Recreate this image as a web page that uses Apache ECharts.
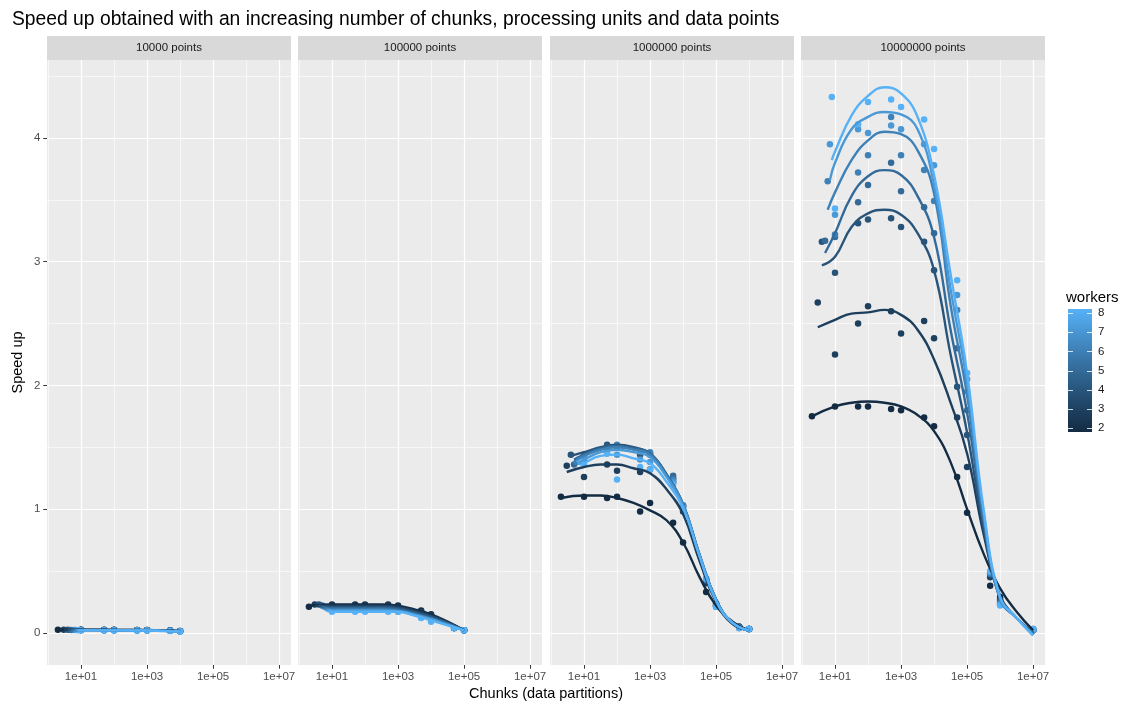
<!DOCTYPE html>
<html>
<head>
<meta charset="utf-8">
<script src="https://cdn.jsdelivr.net/npm/echarts@6/dist/echarts.min.js"></script>
<style>
  html, body { margin: 0; padding: 0; background: #ffffff; }
  #chart { width: 1131px; height: 708px; }
</style>
</head>
<body>
<div id="chart"></div>
<script>
const FONT = '"Liberation Sans", Arial, Helvetica, sans-serif';

// ---- data -------------------------------------------------------------
const workers = [2, 3, 4, 5, 6, 7, 8];
const panelNames = ['10000 points', '100000 points', '1000000 points', '10000000 points'];
const xTickExponents = [1, 3, 5, 7];
const xMinorExponents = [0, 2, 4, 6];
const yTicks = [0, 1, 2, 3, 4];
const yMinor = [0.5, 1.5, 2.5, 3.5, 4.5];
const legendTicks = [2, 3, 4, 5, 6, 7, 8];

// chunk counts tried after the "one chunk per worker" run
const chunks10k = [10, 50, 100, 500, 1000, 5000, 10000];
const chunks100k = chunks10k.concat([50000, 100000]);
const chunks1m = chunks100k.concat([500000, 1000000]);
const chunks10m = chunks1m.concat([10000000]);

// measured speed-up, one row per worker count (2..8);
// the first value of a row is the run with chunks = workers
const speed10k = [
  [0.025, 0.025, 0.024, 0.024, 0.023, 0.023, 0.020, 0.015],
  [0.025, 0.024, 0.023, 0.023, 0.022, 0.022, 0.019, 0.014],
  [0.024, 0.023, 0.022, 0.022, 0.021, 0.021, 0.018, 0.013],
  [0.023, 0.022, 0.021, 0.021, 0.021, 0.020, 0.017, 0.013],
  [0.022, 0.021, 0.021, 0.020, 0.020, 0.020, 0.016, 0.012],
  [0.022, 0.021, 0.020, 0.020, 0.020, 0.019, 0.016, 0.012],
  [0.021, 0.020, 0.020, 0.019, 0.019, 0.019, 0.015, 0.011]
];
const speed100k = [
  [0.21, 0.23, 0.23, 0.23, 0.23, 0.22, 0.18, 0.15, 0.04, 0.02],
  [0.23, 0.22, 0.22, 0.22, 0.22, 0.21, 0.17, 0.14, 0.04, 0.02],
  [0.23, 0.21, 0.21, 0.21, 0.21, 0.20, 0.16, 0.13, 0.04, 0.02],
  [0.22, 0.20, 0.20, 0.20, 0.20, 0.19, 0.15, 0.12, 0.04, 0.02],
  [0.21, 0.19, 0.19, 0.19, 0.19, 0.18, 0.14, 0.11, 0.04, 0.02],
  [0.20, 0.18, 0.18, 0.18, 0.18, 0.17, 0.13, 0.10, 0.04, 0.02],
  [0.19, 0.17, 0.17, 0.17, 0.17, 0.17, 0.12, 0.09, 0.04, 0.02]
];
const speed1m = [
  [1.10, 1.10, 1.09, 1.10, 0.98, 1.05, 0.89, 0.73, 0.33, 0.24, 0.05, 0.03],
  [1.35, 1.26, 1.36, 1.31, 1.30, 1.32, 1.22, 0.98, 0.40, 0.22, 0.05, 0.03],
  [1.44, 1.40, 1.52, 1.51, 1.44, 1.45, 1.25, 1.03, 0.42, 0.22, 0.05, 0.03],
  [1.36, 1.44, 1.50, 1.50, 1.46, 1.44, 1.27, 1.02, 0.43, 0.22, 0.05, 0.03],
  [1.38, 1.42, 1.48, 1.52, 1.47, 1.46, 1.24, 1.03, 0.43, 0.21, 0.04, 0.03],
  [1.40, 1.41, 1.45, 1.44, 1.40, 1.38, 1.22, 1.00, 0.44, 0.21, 0.04, 0.03],
  [1.38, 1.36, 1.45, 1.24, 1.34, 1.32, 1.20, 1.01, 0.44, 0.21, 0.04, 0.03]
];
const speed10m = [
  [1.75, 1.83, 1.83, 1.83, 1.81, 1.80, 1.74, 1.67, 1.26, 0.97, 0.38, 0.29, 0.03],
  [2.67, 2.25, 2.50, 2.64, 2.60, 2.42, 2.52, 2.38, 1.74, 1.34, 0.45, 0.27, 0.02],
  [3.16, 2.91, 3.31, 3.34, 3.35, 3.28, 3.16, 2.93, 1.99, 1.60, 0.47, 0.26, 0.02],
  [3.17, 3.20, 3.48, 3.62, 3.80, 3.57, 3.44, 3.23, 2.30, 1.80, 0.48, 0.25, 0.02],
  [3.65, 3.22, 3.72, 3.86, 4.17, 3.86, 3.74, 3.49, 2.61, 1.95, 0.48, 0.24, 0.02],
  [3.95, 3.38, 4.07, 4.04, 4.10, 4.07, 3.95, 3.78, 2.73, 2.05, 0.49, 0.23, 0.02],
  [4.33, 3.43, 4.11, 4.29, 4.31, 4.25, 4.15, 3.91, 2.85, 2.10, 0.50, 0.22, 0.03]
];

// smoothed trend per worker count: first value at log10(chunks) = log10(workers),
// the rest at the log10(chunks) positions listed in fitLog
const fitLog = [1, 1.5, 2, 2.5, 3, 3.5, 4, 4.5, 5, 5.5, 6, 6.5, 7];
const fit10k = [
  [0.026, 0.025, 0.025, 0.024, 0.024, 0.023, 0.020, 0.015],
  [0.025, 0.024, 0.024, 0.023, 0.023, 0.022, 0.019, 0.014],
  [0.024, 0.023, 0.023, 0.022, 0.022, 0.021, 0.018, 0.013],
  [0.023, 0.022, 0.022, 0.021, 0.021, 0.020, 0.017, 0.013],
  [0.022, 0.022, 0.021, 0.021, 0.020, 0.020, 0.016, 0.012],
  [0.022, 0.021, 0.021, 0.020, 0.020, 0.019, 0.016, 0.012],
  [0.021, 0.020, 0.020, 0.020, 0.019, 0.019, 0.015, 0.011]
];
const fit100k = [
  [0.22, 0.23, 0.23, 0.23, 0.23, 0.22, 0.19, 0.15, 0.09, 0.02],
  [0.22, 0.22, 0.22, 0.22, 0.22, 0.21, 0.18, 0.14, 0.085, 0.02],
  [0.22, 0.21, 0.21, 0.21, 0.21, 0.20, 0.17, 0.13, 0.08, 0.02],
  [0.21, 0.20, 0.20, 0.20, 0.20, 0.19, 0.16, 0.12, 0.075, 0.02],
  [0.20, 0.19, 0.19, 0.19, 0.19, 0.18, 0.15, 0.115, 0.07, 0.02],
  [0.19, 0.18, 0.18, 0.18, 0.18, 0.175, 0.145, 0.11, 0.065, 0.02],
  [0.18, 0.17, 0.17, 0.17, 0.17, 0.17, 0.14, 0.10, 0.06, 0.02]
];
const fit1m = [
  [1.09, 1.11, 1.11, 1.09, 1.05, 0.99, 0.91, 0.73, 0.45, 0.22, 0.09, 0.02],
  [1.30, 1.34, 1.36, 1.36, 1.33, 1.29, 1.16, 0.96, 0.58, 0.25, 0.07, 0.02],
  [1.43, 1.46, 1.50, 1.52, 1.50, 1.45, 1.28, 1.04, 0.63, 0.27, 0.08, 0.02],
  [1.40, 1.44, 1.49, 1.51, 1.49, 1.45, 1.28, 1.04, 0.63, 0.27, 0.08, 0.02],
  [1.40, 1.43, 1.48, 1.50, 1.48, 1.44, 1.27, 1.04, 0.63, 0.27, 0.08, 0.02],
  [1.37, 1.40, 1.46, 1.48, 1.46, 1.42, 1.26, 1.03, 0.62, 0.26, 0.08, 0.02],
  [1.35, 1.37, 1.43, 1.44, 1.41, 1.37, 1.22, 1.01, 0.62, 0.26, 0.08, 0.02]
];
const fit10m = [
  [1.75, 1.83, 1.86, 1.87, 1.86, 1.83, 1.76, 1.63, 1.38, 1.00, 0.64, 0.36, 0.17, 0.02],
  [2.47, 2.53, 2.58, 2.59, 2.61, 2.57, 2.45, 2.21, 1.86, 1.45, 0.80, 0.30, 0.12, 0.00],
  [2.97, 3.04, 3.28, 3.39, 3.42, 3.38, 3.23, 2.93, 2.25, 1.62, 0.85, 0.28, 0.12, 0.00],
  [3.07, 3.23, 3.53, 3.69, 3.74, 3.70, 3.53, 3.20, 2.45, 1.78, 0.90, 0.28, 0.12, 0.00],
  [3.42, 3.56, 3.82, 3.98, 4.05, 4.03, 3.90, 3.55, 2.65, 1.92, 0.94, 0.27, 0.12, -0.01],
  [3.66, 3.80, 4.07, 4.17, 4.21, 4.19, 4.07, 3.62, 2.78, 2.02, 0.97, 0.28, 0.12, -0.02],
  [3.82, 3.89, 4.18, 4.34, 4.41, 4.36, 4.17, 3.70, 2.90, 2.10, 1.00, 0.29, 0.12, -0.02]
];

const panelChunks = [chunks10k, chunks100k, chunks1m, chunks10m];
const panelSpeed = [speed10k, speed100k, speed1m, speed10m];
const panelFit = [fit10k, fit100k, fit1m, fit10m];

// ---- colour scale: gradient #132B43 -> #56B1F7 interpolated in CIE Lab ----
const LOW = '#132B43', HIGH = '#56B1F7';
function hexRgb(h) { return [1, 3, 5].map(i => parseInt(h.slice(i, i + 2), 16)); }
function rgbToLab(rgb) {
  const lin = rgb.map(c => { c /= 255; return c <= 0.04045 ? c / 12.92 : Math.pow((c + 0.055) / 1.055, 2.4); });
  const X = (0.4124 * lin[0] + 0.3576 * lin[1] + 0.1805 * lin[2]) / 0.95047;
  const Y = (0.2126 * lin[0] + 0.7152 * lin[1] + 0.0722 * lin[2]);
  const Z = (0.0193 * lin[0] + 0.1192 * lin[1] + 0.9505 * lin[2]) / 1.08883;
  const f = t => t > 0.008856 ? Math.cbrt(t) : 7.787 * t + 16 / 116;
  const fx = f(X), fy = f(Y), fz = f(Z);
  return [116 * fy - 16, 500 * (fx - fy), 200 * (fy - fz)];
}
function labToRgb(lab) {
  const fy = (lab[0] + 16) / 116, fx = fy + lab[1] / 500, fz = fy - lab[2] / 200;
  const inv = t => t > 0.206893 ? t * t * t : (t - 16 / 116) / 7.787;
  const X = inv(fx) * 0.95047, Y = inv(fy), Z = inv(fz) * 1.08883;
  const lin = [
    3.2406 * X - 1.5372 * Y - 0.4986 * Z,
    -0.9689 * X + 1.8758 * Y + 0.0415 * Z,
    0.0557 * X - 0.2040 * Y + 1.0570 * Z
  ];
  return lin.map(c => {
    c = c <= 0.0031308 ? 12.92 * c : 1.055 * Math.pow(c, 1 / 2.4) - 0.055;
    return Math.max(0, Math.min(255, Math.round(c * 255)));
  });
}
const labLow = rgbToLab(hexRgb(LOW)), labHigh = rgbToLab(hexRgb(HIGH));
function workerColour(w) {
  const t = (w - workers[0]) / (workers[workers.length - 1] - workers[0]);
  const lab = labLow.map((v, i) => v + (labHigh[i] - v) * t);
  const rgb = labToRgb(lab);
  return 'rgb(' + rgb.join(',') + ')';
}

// ---- layout -------------------------------------------------------------
const gridLeft = [47, 298, 550, 801];
const gridWidth = 244;
const gridTop = 60;
const gridHeight = 605;
const X_MIN = -0.03, X_MAX = 7.36;
const Y_MIN = -0.26, Y_MAX = 4.63;

const grids = [], xAxes = [], yAxes = [], series = [], graphics = [];

panelNames.forEach((name, p) => {
  grids.push({ left: gridLeft[p], top: gridTop, width: gridWidth, height: gridHeight,
    show: true, backgroundColor: '#EBEBEB', borderWidth: 0 });

  xAxes.push({
    gridIndex: p, type: 'value', min: X_MIN, max: X_MAX,
    axisLine: { show: false, onZero: false },
    axisTick: { show: true, customValues: xTickExponents, length: 3.7, lineStyle: { color: '#333333', width: 1 } },
    axisLabel: { customValues: xTickExponents, margin: 6, color: '#4D4D4D', fontSize: 11.5, fontFamily: FONT,
      formatter: v => '1e+' + String(Math.round(v)).padStart(2, '0') },
    splitLine: { show: false }
  });
  yAxes.push({
    gridIndex: p, type: 'value', min: Y_MIN, max: Y_MAX,
    name: p === 0 ? 'Speed up' : '', nameLocation: 'middle', nameGap: 22, nameRotate: 90,
    nameTextStyle: { color: '#000000', fontSize: 14.5, fontFamily: FONT },
    axisLine: { show: false, onZero: false },
    axisTick: { show: p === 0, customValues: yTicks, length: 3.7, lineStyle: { color: '#333333', width: 1 } },
    axisLabel: { show: p === 0, customValues: yTicks, margin: 6.5, color: '#4D4D4D', fontSize: 11.5, fontFamily: FONT },
    splitLine: { show: false }
  });

  // panel grid lines (white, major and minor), kept beneath the data
  const gl = [];
  xMinorExponents.forEach(v => gl.push({ xAxis: v, lineStyle: { width: 0.6 } }));
  yMinor.forEach(v => gl.push({ yAxis: v, lineStyle: { width: 0.6 } }));
  xTickExponents.forEach(v => gl.push({ xAxis: v, lineStyle: { width: 1.2 } }));
  yTicks.forEach(v => gl.push({ yAxis: v, lineStyle: { width: 1.2 } }));
  series.push({
    type: 'line', xAxisIndex: p, yAxisIndex: p, data: [], z: 1, silent: true,
    markLine: { z: 1, silent: true, symbol: ['none', 'none'], label: { show: false },
      lineStyle: { color: '#FFFFFF', type: 'solid' }, data: gl, animation: false }
  });

  // strip
  graphics.push({ type: 'rect', x: gridLeft[p], y: 36, shape: { width: gridWidth, height: 24 },
    style: { fill: '#D9D9D9' }, silent: true });
  graphics.push({ type: 'text', x: gridLeft[p] + gridWidth / 2, y: 48, silent: true,
    style: { text: name, fill: '#1A1A1A', font: '11.5px ' + FONT, align: 'center', verticalAlign: 'middle' } });
});

// measured points (drawn under the trend lines)
panelNames.forEach((name, p) => {
  workers.forEach((w, k) => {
    const row = panelSpeed[p][k];
    const data = [[Math.log10(w), row[0]]].concat(panelChunks[p].map((c, i) => [Math.log10(c), row[i + 1]]));
    series.push({
      type: 'scatter', name: String(w), xAxisIndex: p, yAxisIndex: p, data,
      symbolSize: 6.5, itemStyle: { color: workerColour(w), opacity: 1 }, z: 2, silent: true
    });
  });
});
// smoothed trends
panelNames.forEach((name, p) => {
  workers.forEach((w, k) => {
    const row = panelFit[p][k];
    const data = [[Math.log10(w), row[0]]].concat(row.slice(1).map((v, i) => [fitLog[i], v]));
    series.push({
      type: 'line', name: String(w), xAxisIndex: p, yAxisIndex: p, data,
      smooth: 0.45, showSymbol: false, symbol: 'none', z: 3, silent: true,
      lineStyle: { width: 2.4, color: workerColour(w) }, itemStyle: { color: workerColour(w) }
    });
  });
});

// x axis title spanning the panels
graphics.push({ type: 'text', x: (gridLeft[0] + gridLeft[3] + gridWidth) / 2, y: 694, silent: true,
  style: { text: 'Chunks (data partitions)', fill: '#000000', font: '14.5px ' + FONT, align: 'center', verticalAlign: 'middle' } });

// colour bar legend
const bar = { x: 1068, y: 309, w: 24, h: 123, lowY: 428, highY: 313 };
const yOfWorker = v => bar.lowY - (v - legendTicks[0]) / (legendTicks[legendTicks.length - 1] - legendTicks[0]) * (bar.lowY - bar.highY);
const stops = [];
for (let i = 0; i <= 24; i++) {
  const v = workers[workers.length - 1] - (workers[workers.length - 1] - workers[0]) * i / 24;
  stops.push({ offset: i / 24, color: workerColour(v) });
}
graphics.push({ type: 'text', x: 1066, y: 298, silent: true,
  style: { text: 'workers', fill: '#000000', font: '15px ' + FONT, align: 'left', verticalAlign: 'middle' } });
graphics.push({ type: 'rect', x: bar.x, y: bar.y, shape: { width: bar.w, height: bar.h }, silent: true,
  style: { fill: { type: 'linear', x: 0, y: 0, x2: 0, y2: 1, colorStops: stops } } });
legendTicks.forEach(v => {
  const y = Math.round(yOfWorker(v)) + 0.5;
  graphics.push({ type: 'line', silent: true, shape: { x1: bar.x, y1: y, x2: bar.x + 5, y2: y },
    style: { stroke: '#FFFFFF', lineWidth: 1, opacity: 0.8 } });
  graphics.push({ type: 'line', silent: true, shape: { x1: bar.x + bar.w - 5, y1: y, x2: bar.x + bar.w, y2: y },
    style: { stroke: '#FFFFFF', lineWidth: 1, opacity: 0.8 } });
  graphics.push({ type: 'text', x: bar.x + bar.w + 6, y: yOfWorker(v), silent: true,
    style: { text: String(v), fill: '#1A1A1A', font: '11.5px ' + FONT, align: 'left', verticalAlign: 'middle' } });
});

const chart = echarts.init(document.getElementById('chart'), null, { renderer: 'canvas' });
chart.setOption({
  backgroundColor: '#FFFFFF',
  animation: false,
  title: {
    text: 'Speed up obtained with an increasing number of chunks, processing units and data points',
    left: 7, top: 5,
    textStyle: { color: '#000000', fontSize: 19.3, fontWeight: 'normal', fontFamily: FONT }
  },
  grid: grids,
  xAxis: xAxes,
  yAxis: yAxes,
  series: series,
  graphic: graphics
});
</script>
</body>
</html>
